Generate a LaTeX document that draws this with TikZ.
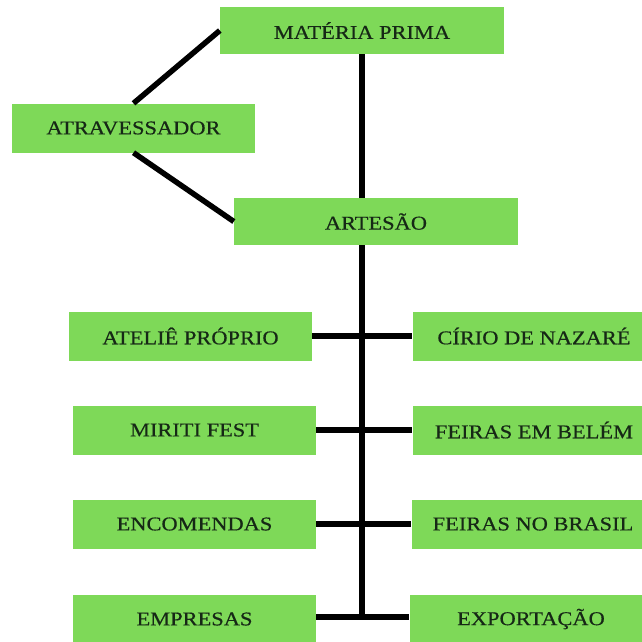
\documentclass[tikz,border=0pt]{standalone}
\usepackage{fontspec}
\setmainfont{Liberation Serif}[FakeStretch=1.15, FakeBold=0.5]
\usepackage{tikz}
\usetikzlibrary{backgrounds}
\definecolor{boxgreen}{RGB}{126,217,88}
\definecolor{boxtext}{RGB}{22,40,22}

\begin{document}
\begin{tikzpicture}[x=1pt, y=-1pt,
    box/.style={fill=boxgreen, text=boxtext, minimum width=243pt, minimum height=49pt,
      inner sep=0pt, font=\fontsize{19.5}{22}\selectfont},
    wide/.style={box, minimum width=284pt, minimum height=47pt},
    link/.style={line width=5.5pt, black}]
    \clip (0,0) rectangle (642,641);

    \node[wide] (mp) at (362,30.5) {MATÉRIA PRIMA};
    \node[box] (atr) at (133.5,128) {ATRAVESSADOR};
    \node[wide] (art) at (376,221.5) {ARTESÃO};

    \node[box] (ate) at (190.5,336) {ATELIÊ PRÓPRIO};
    \node[box] (mir) at (194.5,430) {MIRITI FEST};
    \node[box] (enc) at (194.5,524) {ENCOMENDAS};
    \node[box] (emp) at (194.5,619) {EMPRESAS};

    \node[box] (cir) at (534,336) {CÍRIO DE NAZARÉ};
    \node[box] (fbe) at (534,430) {FEIRAS EM BELÉM};
    \node[box] (fbr) at (533,524) {FEIRAS NO BRASIL};
    \node[box] (exp) at (531,619) {EXPORTAÇÃO};

    \coordinate (foot) at (362,617);

    \begin{scope}[on background layer]
        \draw[link] (mp.south) -- (foot);
    \end{scope}

    \draw[link] (atr.north) -- (mp.west);
    \draw[link] (atr.south) -- (art.west);

    \draw[link] (ate.east) -- (cir.west);
    \draw[link] (mir.east) -- (fbe.west);
    \draw[link] (enc.east) -- (fbr.west);
    \draw[link] (emp.east |- foot) -- (exp.west |- foot);
\end{tikzpicture}
\end{document}
